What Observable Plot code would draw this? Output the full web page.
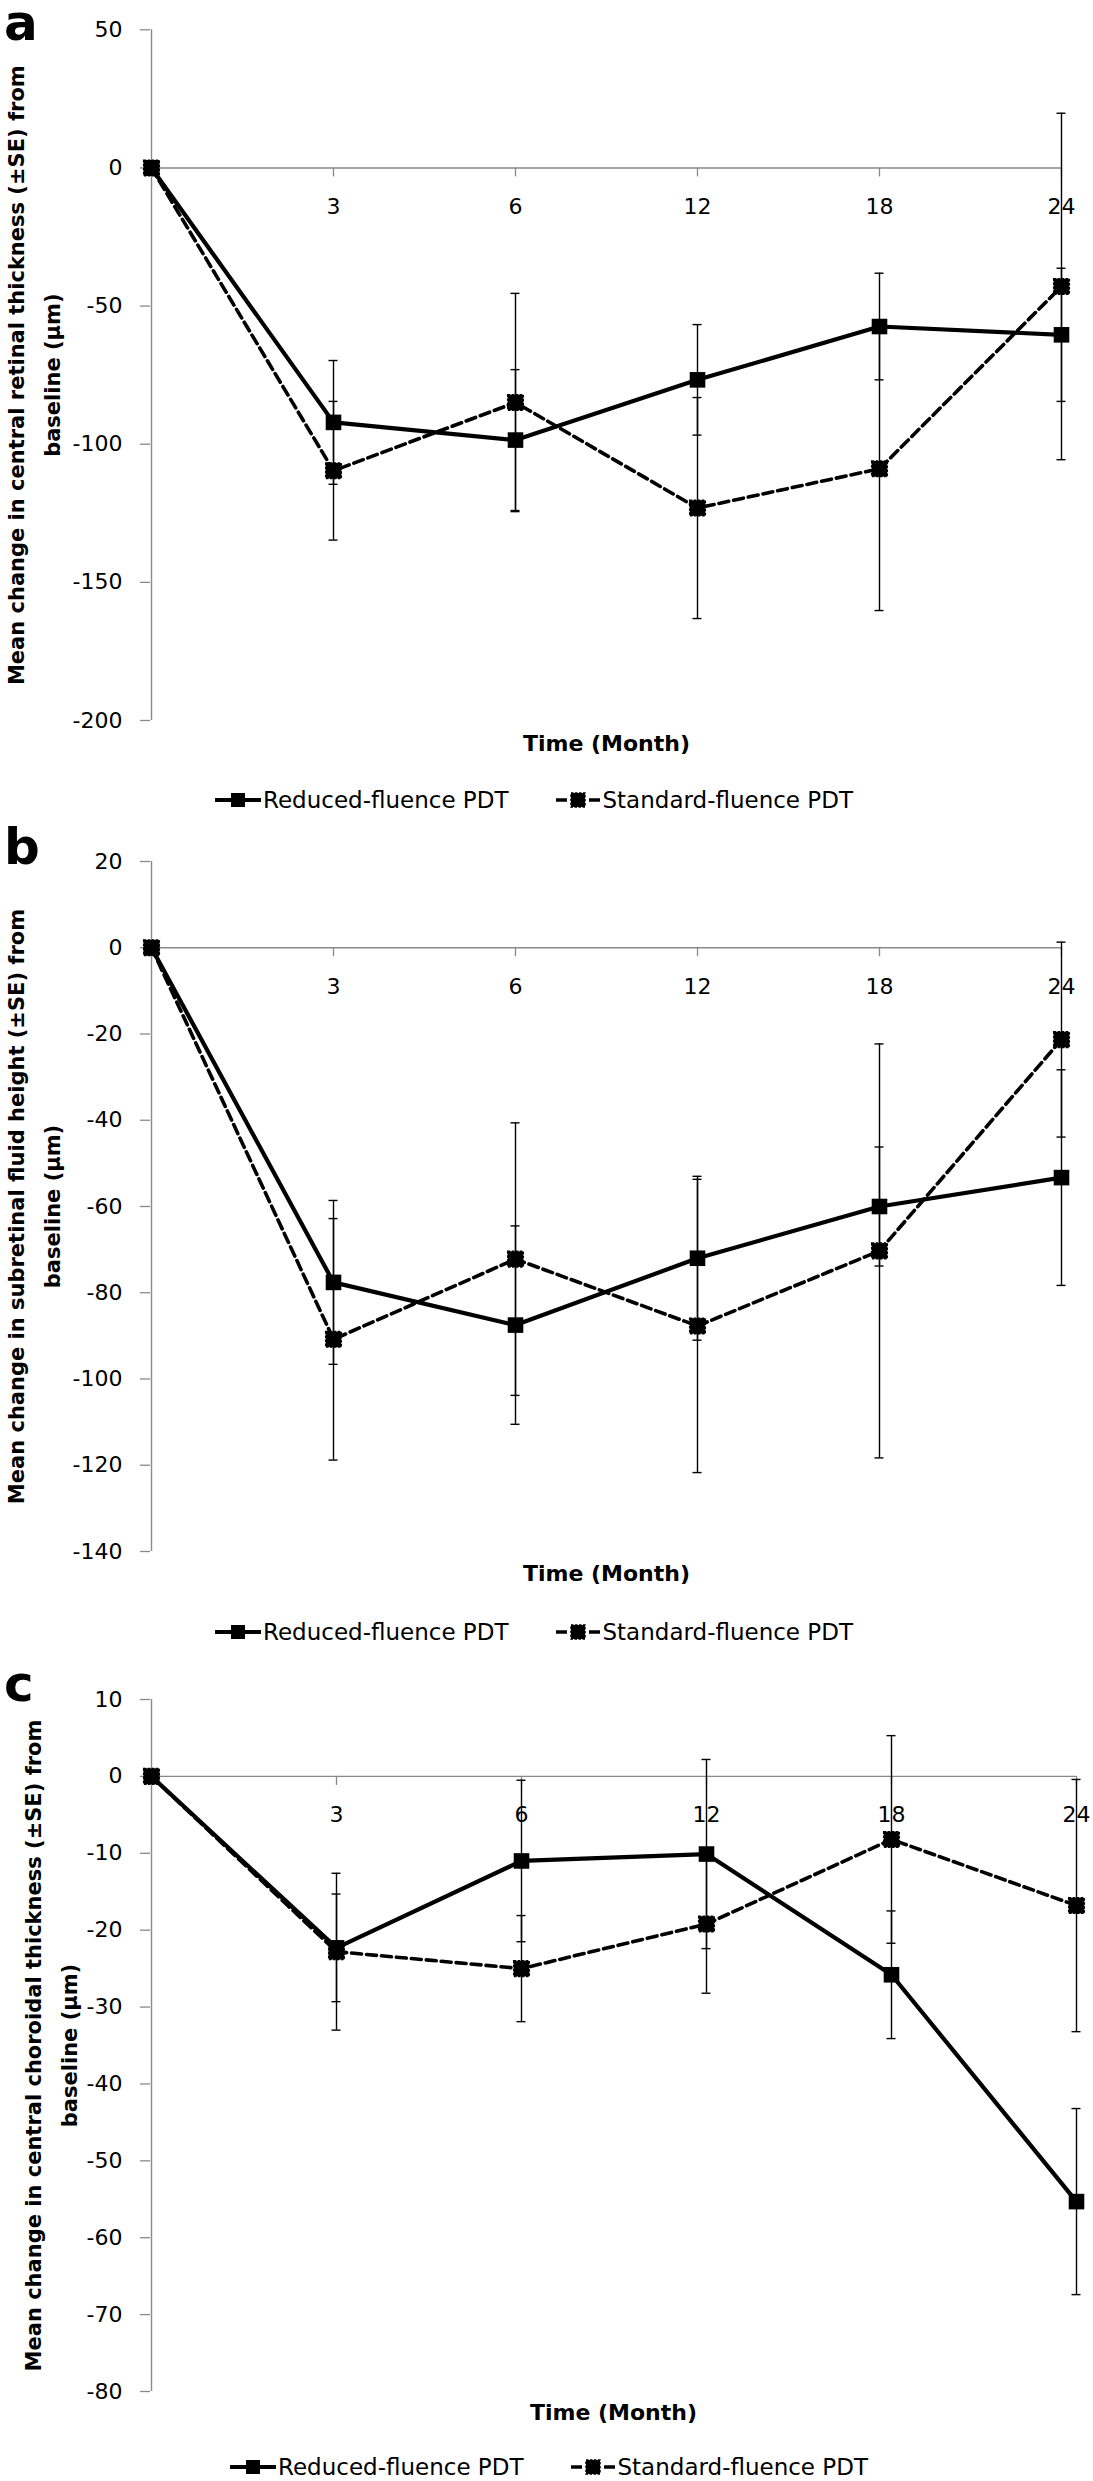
<!DOCTYPE html>
<html>
<head>
<meta charset="utf-8">
<script src="https://cdn.jsdelivr.net/npm/d3@7"></script>
<script src="https://cdn.jsdelivr.net/npm/@observablehq/plot@0.6"></script>
<style>
  html, body { margin: 0; padding: 0; background: #fff; }
  #root { position: relative; width: 1093px; height: 2481px; overflow: hidden; font-family: "DejaVu Sans", sans-serif; color: #000; }
  .panel { position: absolute; left: 0; }
  .letter { position: absolute; left: 4px; font-family: "DejaVu Sans", sans-serif; font-weight: bold; font-size: 50px; line-height: 44px; }
  .legend { position: absolute; height: 24px; line-height: 24px; display: flex; align-items: center; font-size: 23px; white-space: nowrap; }
  .item { display: flex; align-items: center; }
  .item svg { display: block; margin-right: 2px; }
</style>
</head>
<body>
<div id="root"></div>
<script>
// ---------- data ----------
const months = [0, 3, 6, 12, 18, 24];
const monthLabels = ["", "3", "6", "12", "18", "24"];
const seriesNames = ["Reduced-fluence PDT", "Standard-fluence PDT"];
const xTitle = "Time (Month)";

// panel a: central retinal thickness
const reducedA   = [0, -92.1, -98.5, -76.7, -57.4, -60.4];
const reducedSEA = [0, 22.4, 25.5, 20.0, 19.3, 24.1];
const standardA  = [0, -109.6, -84.9, -123.1, -108.9, -42.9];
const standardSEA= [0, 25.1, 39.5, 40.0, 51.3, 62.7];
const yTicksA = [50, 0, -50, -100, -150, -200];

// panel b: subretinal fluid height
const reducedB   = [0, -77.6, -87.5, -72.0, -60.0, -53.3];
const reducedSEB = [0, 19.0, 23.0, 19.0, 13.8, 25.0];
const standardB  = [0, -90.8, -72.2, -87.7, -70.3, -21.3];
const standardSEB= [0, 28.0, 31.6, 34.0, 48.0, 22.6];
const yTicksB = [20, 0, -20, -40, -60, -80, -100, -120, -140];

// panel c: central choroidal thickness
const reducedC   = [0, -22.3, -11.0, -10.1, -25.8, -55.3];
const reducedSEC = [0, 7.0, 10.5, 12.3, 8.3, 12.1];
const standardC  = [0, -22.8, -25.0, -19.2, -8.2, -16.8];
const standardSEC= [0, 10.2, 6.9, 9.0, 13.5, 16.4];
const yTicksC = [10, 0, -10, -20, -30, -40, -50, -60, -70, -80];

const yTitleA = "Mean change in central retinal thickness (±SE) from\nbaseline (μm)";
const yTitleB = "Mean change in subretinal fluid height (±SE) from\nbaseline (μm)";
const yTitleC = "Mean change in central choroidal thickness (±SE) from\nbaseline (μm)";

// ---------- layout ----------
const panels = [
  {letter: "a", top: 0, height: 770, marginTop: 29.3, marginBottom: 50, marginRight: 31,
   reduced: reducedA, reducedSE: reducedSEA, standard: standardA, standardSE: standardSEA,
   ticks: yTicksA, title: yTitleA, titleDx: -120, xTitleDy: 23, letterTop: 1, legendTop: 788, legendLeft: 215},
  {letter: "b", top: 815, height: 785, marginTop: 46, marginBottom: 49, marginRight: 31,
   reduced: reducedB, reducedSE: reducedSEB, standard: standardB, standardSE: standardSEB,
   ticks: yTicksB, title: yTitleB, titleDx: -120, xTitleDy: 22, letterTop: 825, legendTop: 1620, legendLeft: 215},
  {letter: "c", top: 1650, height: 790, marginTop: 49, marginBottom: 49, marginRight: 17,
   reduced: reducedC, reducedSE: reducedSEC, standard: standardC, standardSE: standardSEC,
   ticks: yTicksC, title: yTitleC, titleDx: -103, xTitleDy: 21, letterTop: 1662, legendTop: 2455, legendLeft: 230}
];

const AXIS = "#898989";
const root = document.getElementById("root");

function makePanel(p) {
  const red = months.map((m, i) => ({month: m, series: seriesNames[0], value: p.reduced[i], se: p.reducedSE[i]}));
  const std = months.map((m, i) => ({month: m, series: seriesNames[1], value: p.standard[i], se: p.standardSE[i]}));
  const err = red.concat(std).filter(d => d.se > 0);
  const yDomain = [d3.min(p.ticks), d3.max(p.ticks)];

  const chart = Plot.plot({
    width: 1093,
    height: p.height,
    marginLeft: 150,
    marginRight: p.marginRight,
    marginTop: p.marginTop,
    marginBottom: p.marginBottom,
    style: {fontFamily: "DejaVu Sans, sans-serif", background: "white", overflow: "visible", color: "black"},
    x: {type: "point", domain: months, padding: 0, axis: null},
    y: {domain: yDomain},
    marks: [
      // axes
      Plot.ruleY([0], {stroke: AXIS, strokeWidth: 1.4}),
      Plot.ruleX([months[0]], {x: d => d, stroke: AXIS, strokeWidth: 1.4}),
      Plot.ruleX(months.slice(1), {x: d => d, y1: 0, y2: 0, insetBottom: -9, stroke: AXIS, strokeWidth: 1.3}),
      Plot.axisY({ticks: p.ticks, tickFormat: d => String(d), tickSize: 10, tickPadding: 18, label: null,
                  fontSize: 22, stroke: AXIS, strokeWidth: 1.3}),
      Plot.text(months, {x: d => d, y: 0, text: (d, i) => monthLabels[i], dy: 39, fontSize: 22}),
      // axis titles
      Plot.text([p.title], {frameAnchor: "left", rotate: -90, dx: p.titleDx, text: d => d,
                            fontSize: 21, fontWeight: "bold", lineHeight: 1.71, textAnchor: "middle", lineAnchor: "middle"}),
      Plot.text([xTitle], {frameAnchor: "bottom", dy: p.xTitleDy, text: d => d,
                           fontSize: 22, fontWeight: "bold", lineAnchor: "middle"}),
      // error bars
      Plot.ruleX(err, {x: "month", y1: d => d.value - d.se, y2: d => d.value + d.se, stroke: "black", strokeWidth: 1.4}),
      Plot.ruleY(err, {x1: "month", x2: "month", y: d => d.value - d.se, insetLeft: -4.5, insetRight: -4.5, stroke: "black", strokeWidth: 1.4}),
      Plot.ruleY(err, {x1: "month", x2: "month", y: d => d.value + d.se, insetLeft: -4.5, insetRight: -4.5, stroke: "black", strokeWidth: 1.4}),
      // series lines
      Plot.line(std, {x: "month", y: "value", stroke: "black", strokeWidth: 3.6, strokeDasharray: "10,5"}),
      Plot.line(red, {x: "month", y: "value", stroke: "black", strokeWidth: 4.2}),
      // markers
      Plot.dot(std, {x: "month", y: "value", symbol: "square", r: 8.8, fill: "black",
                     stroke: "black", strokeWidth: 1.5, strokeDasharray: "2.5,1.5"}),
      Plot.dot(red, {x: "month", y: "value", symbol: "square", r: 8.8, fill: "black"})
    ]
  });

  const wrap = document.createElement("div");
  wrap.className = "panel";
  wrap.style.top = p.top + "px";
  wrap.appendChild(chart);
  root.appendChild(wrap);

  const letter = document.createElement("div");
  letter.className = "letter";
  letter.style.top = p.letterTop + "px";
  letter.textContent = p.letter;
  root.appendChild(letter);

  const legend = document.createElement("div");
  legend.className = "legend";
  legend.style.top = p.legendTop + "px";
  legend.style.left = p.legendLeft + "px";
  const solidIcon = '<svg width="46" height="20"><line x1="0" y1="10" x2="46" y2="10" stroke="black" stroke-width="4"/><rect x="16" y="3" width="14" height="14" fill="black"/></svg>';
  const dashIcon = '<svg width="46" height="20"><line x1="1" y1="10" x2="12" y2="10" stroke="black" stroke-width="3.5"/><line x1="34" y1="10" x2="45" y2="10" stroke="black" stroke-width="3.5"/><rect x="16" y="3" width="14" height="14" fill="black" stroke="black" stroke-width="1.5" stroke-dasharray="2.5,1.5"/></svg>';
  legend.innerHTML =
    '<div class="item">' + solidIcon + '<span>' + seriesNames[0] + '</span></div>' +
    '<div class="item" style="margin-left:46px">' + dashIcon + '<span>' + seriesNames[1] + '</span></div>';
  root.appendChild(legend);
}

panels.forEach(makePanel);
</script>
</body>
</html>
